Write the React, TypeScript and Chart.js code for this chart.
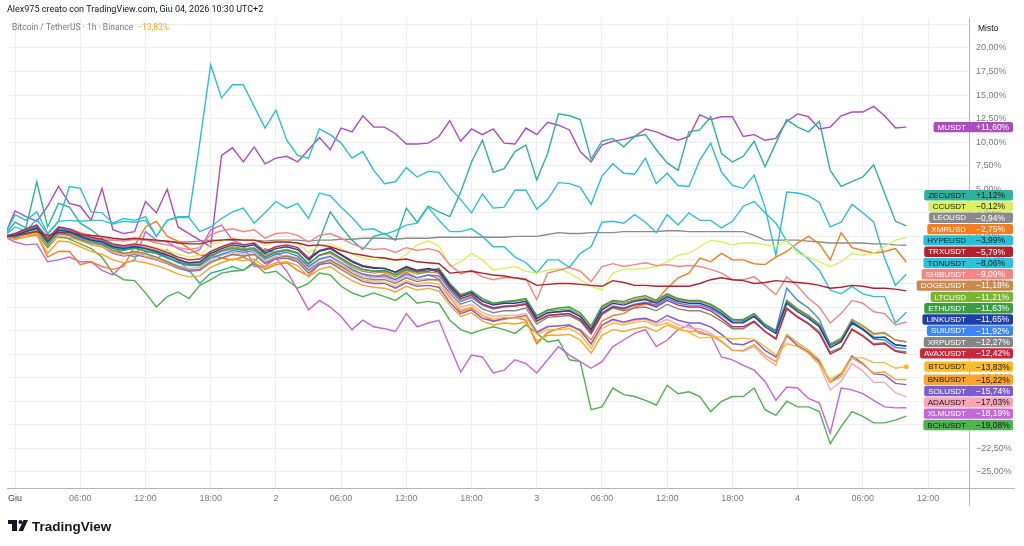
import React, { useEffect, useRef } from 'react';
import { Chart, registerables } from 'chart.js';

Chart.register(...registerables);

// Hourly bars, first one at 23:00 on 31 May (hour -1 relative to 1 June 00:00)
const HOUR_START = -1;

const tickHours = [0, 6, 12, 18, 24, 30, 36, 42, 48, 54, 60, 66, 72, 78, 84];
const tickLabels = ['Giu', '06:00', '12:00', '18:00', '2', '06:00', '12:00', '18:00', '3', '06:00', '12:00', '18:00', '4', '06:00', '12:00'];
const yTicks = [-25, -22.5, -20, -17.5, -15, -12.5, -10, -7.5, -5, -2.5, 0, 2.5, 5, 7.5, 10, 12.5, 15, 17.5, 20, 22.5];

// Percent change versus the first bar, one value per hour
const musdt = [0, 2.7, 2.1, 1.6, 3.2, 5.3, 3.5, 3.2, 1.7, 5.1,
  0.7, 0.3, 0.5, 3.7, 2.5, 5.0, 1.0, 0.3, -0.4, -1.1,
  8.6, 9.4, 7.9, 9.5, 7.7, 8.3, 8.5, 7.9, 9.2, 10.5,
  9.2, 11.5, 11.1, 12.8, 11.6, 11.6, 10.9, 9.8, 9.8, 9.9,
  10.6, 12.3, 10.1, 11.4, 10.8, 11.4, 9.9, 9.8, 11.5, 10.8,
  12.1, 11.8, 11.3, 9.0, 7.9, 9.7, 10.1, 10.3, 10.6, 11.4,
  11.1, 10.6, 10.2, 10.6, 12.9, 12.4, 12.7, 12.7, 10.6, 10.8,
  10.2, 10.4, 12.2, 13.0, 12.7, 11.4, 11.6, 12.8, 13.2, 13.2,
  13.8, 12.8, 11.5, 11.6];
const zecusdt = [0, 1.5, 0.9, 5.8, 1.0, 3.5, 3.1, 1.4, 0.7, -0.2,
  -1.2, -1.8, -2.2, -1.8, -2.5, -1.4, -2.5, -3.6, -5.0, -3.9,
  -3.6, -3.2, -3.6, -2.7, -1.3, -1.8, -2.2, -2.5, -2.9, -0.4,
  2.6, 1.0, -0.4, -1.4, 0.0, 0.3, -0.4, 3.0, 1.5, 3.2,
  2.6, 2.1, 4.7, 7.9, 10.2, 6.8, 7.2, 9.0, 9.7, 6.0,
  8.8, 13.0, 12.8, 12.4, 8.2, 10.1, 10.4, 9.5, 10.6, 10.8,
  9.2, 7.8, 7.0, 11.1, 11.3, 12.7, 8.8, 7.9, 8.5, 10.1,
  7.4, 9.9, 12.4, 11.6, 11.1, 12.2, 7.0, 5.3, 5.8, 6.3,
  7.6, 4.6, 1.6, 1.12];
const ccusdt = [0, 0.1, 0.4, 0.6, -0.5, 0.5, 0.3, 0.0, -0.3, -0.4,
  -0.8, -1.0, -0.8, -1.0, -1.2, -1.5, -1.9, -2.2, -2.0, -0.9,
  -0.5, -0.2, -0.4, -0.3, -1.0, -0.6, -0.5, -0.8, -1.7, -1.0,
  -0.8, -1.3, -1.9, -2.3, -2.5, -2.3, -2.6, -1.9, -0.9, -0.5,
  -1.0, -3.2, -2.7, -1.8, -2.5, -3.6, -3.4, -3.2, -3.7, -3.9,
  -3.6, -3.4, -3.9, -4.6, -5.3, -5.7, -3.9, -3.5, -3.5, -3.4,
  -3.2, -2.7, -2.0, -1.8, -1.1, -0.4, -0.6, -0.9, -0.7, -0.7,
  -0.9, -1.1, -0.4, -1.8, -2.2, -2.7, -3.2, -2.7, -1.8, -2.0,
  -1.8, -1.1, -0.4, -0.12];
const leousd = [0, -0.1, 0.1, 0.1, -0.2, -0.1, -0.2, -0.3, -0.3, -0.4,
  -0.4, -0.4, -0.3, -0.4, -0.5, -0.5, -0.6, -0.6, -0.5, -0.4,
  -0.4, -0.4, -0.4, -0.4, -0.5, -0.4, -0.4, -0.4, -0.5, -0.4,
  -0.4, -0.3, -0.3, -0.2, -0.2, -0.2, -0.3, -0.2, -0.2, -0.2,
  -0.1, -0.1, -0.1, -0.1, -0.1, -0.1, -0.1, 0.0, 0.0, 0.0,
  0.2, 0.4, 0.3, 0.3, 0.4, 0.4, 0.4, 0.5, 0.5, 0.5,
  0.5, 0.6, 0.6, 0.5, 0.5, 0.5, 0.5, 0.5, 0.5, 0.1,
  -0.4, -0.4, -0.4, -0.4, -0.5, -0.6, -0.7, -0.7, -0.7, -0.7,
  -0.8, -0.8, -0.9, -0.94];
const xmrusd = [0, -0.3, 0.3, 0.2, -2.2, -1.6, -1.6, -3.0, -2.7, -3.2,
  -3.5, -3.2, -1.0, 1.0, 1.6, 0.0, -0.5, -1.3, -2.0, -2.0,
  -2.3, -2.5, -2.2, -2.8, -3.5, -3.0, -2.8, -3.6, -4.2, -3.0,
  -2.5, -3.2, -3.6, -4.0, -4.4, -4.0, -4.6, -3.8, -4.4, -4.1,
  -4.5, -6.5, -8.0, -7.6, -8.4, -9.0, -8.8, -8.6, -8.9, -11.4,
  -10.2, -9.8, -9.5, -9.9, -11.0, -9.0, -8.4, -8.2, -7.5, -7.2,
  -6.8, -5.5, -4.4, -3.9, -2.3, -2.7, -1.8, -2.5, -2.5, -2.9,
  -3.0, -2.2, -1.6, -0.7, 0.0, -0.8, -2.5, 0.4, -1.2, -1.5,
  -1.8, -1.6, -1.3, -2.75];
const hypeusd = [0, 2.3, 1.7, 2.6, 0.3, 1.6, 5.3, 5.1, 2.6, 2.5,
  1.4, 1.9, 1.7, 2.1, 0.0, 1.7, 2.1, 2.1, 10.0, 18.2,
  14.7, 16.1, 16.1, 13.8, 11.5, 13.4, 10.2, 8.6, 8.3, 11.4,
  10.8, 9.9, 8.3, 9.0, 7.0, 5.6, 5.8, 7.3, 6.3, 6.9,
  6.8, 5.2, 3.9, 2.5, 4.5, 3.0, 3.1, 4.9, 4.9, 2.9,
  3.9, 5.7, 5.6, 5.2, 3.4, 6.4, 7.7, 6.7, 6.6, 8.3,
  5.6, 6.7, 5.4, 5.3, 8.1, 9.9, 6.8, 5.4, 5.1, 6.5,
  3.1, -2.0, 4.7, 4.6, 4.3, 3.6, 1.0, 1.5, 3.4, 2.5,
  1.5, -2.3, -5.2, -3.99];
const trxusdt = [0, 0.1, 0.3, 0.5, 0.1, 0.4, 0.4, 0.2, 0.1, 0.0,
  -0.2, -0.3, -0.2, -0.3, -0.4, -0.5, -0.7, -0.8, -0.8, -0.5,
  -0.4, -0.3, -0.4, -0.4, -0.7, -0.6, -0.6, -0.7, -1.0, -0.9,
  -1.1, -1.5, -1.8, -2.0, -2.2, -2.3, -2.5, -2.4, -2.7, -2.8,
  -2.9, -3.9, -3.8, -3.7, -3.9, -4.1, -4.2, -4.4, -4.6, -5.2,
  -5.1, -5.0, -5.0, -5.1, -5.2, -5.3, -4.7, -4.9, -5.2, -5.2,
  -5.3, -5.3, -5.3, -5.3, -5.0, -4.6, -4.4, -4.6, -4.7, -5.0,
  -4.9, -4.7, -4.8, -4.9, -5.0, -5.2, -5.5, -5.4, -5.2, -5.3,
  -5.5, -5.5, -5.6, -5.79];
const tonusdt = [0, 1.0, 0.6, 1.8, 0.2, 1.6, 1.7, 1.6, 1.7, 1.7,
  1.3, 1.6, 1.5, 1.7, 0.0, 1.7, 2.0, 2.0, 0.5, 1.0,
  1.9, 2.6, 3.0, 1.4, 2.5, 3.7, 3.0, 3.5, 1.9, 4.6,
  4.3, 3.1, 2.0, 0.7, 0.8, 0.2, 0.6, 1.2, 1.4, 3.1,
  1.7, 0.5, 0.5, 0.8, 0.0, -1.1, -1.1, -2.2, -2.8, -3.9,
  -2.5, -2.5, -3.3, -1.8, -1.1, 1.5, 1.6, 1.4, 2.3, 1.5,
  0.4, 2.3, 1.2, 2.5, 1.7, 1.7, 0.9, 1.6, 3.2, 3.7,
  2.5, 1.4, -0.5, -1.5, -2.4, -3.6, -5.7, -6.1, -5.3, -6.1,
  -6.4, -6.4, -9.2, -8.06];
const shibusdt = [0, 0.2, 0.6, 1.0, -0.2, 0.9, 0.8, 0.4, 0.1, -0.1,
  -0.4, -0.5, -0.3, -0.4, -0.7, -0.9, -1.2, -1.4, -1.2, 0.2,
  0.6, 0.8, 0.5, 0.7, -0.2, 0.3, 0.4, 0.1, -0.6, 0.1,
  0.3, -0.2, -0.8, -1.2, -1.4, -1.3, -1.7, -1.2, -1.5, -1.3,
  -1.6, -3.0, -4.0, -3.6, -4.3, -4.6, -4.4, -4.4, -4.5, -6.7,
  -3.9, -3.6, -3.3, -3.7, -4.8, -3.2, -2.9, -3.2, -3.0, -2.8,
  -3.1, -3.0, -3.2, -3.1, -3.2, -3.5, -3.9, -4.6, -4.6, -4.3,
  -5.2, -6.2, -4.3, -5.3, -6.6, -7.5, -9.2, -8.2, -6.8, -7.1,
  -8.0, -8.2, -9.4, -9.09];
const dogeusdt = [0, 0.3, 0.8, 1.2, -0.5, 1.0, 0.7, 0.2, -0.2, -0.4,
  -0.9, -1.1, -0.9, -1.2, -1.5, -1.9, -2.4, -2.9, -2.8, -1.8,
  -1.5, -1.2, -1.4, -1.2, -2.2, -1.6, -1.4, -1.8, -3.0, -2.0,
  -1.8, -2.5, -3.3, -3.7, -3.9, -3.8, -4.3, -3.6, -4.0, -3.8,
  -3.9, -5.5, -6.7, -6.3, -7.2, -7.6, -7.4, -7.3, -7.1, -8.8,
  -8.1, -8.0, -7.9, -8.5, -9.8, -7.6, -6.9, -7.1, -6.7, -6.5,
  -6.9, -6.2, -6.7, -6.9, -6.9, -7.3, -7.9, -8.9, -8.9, -8.3,
  -9.4, -10.0, -6.8, -7.7, -8.4, -9.3, -11.4, -10.9, -8.8, -9.5,
  -10.3, -10.2, -11.0, -11.18];
const ltcusd = [0, 0.1, 0.5, 0.7, -0.7, 0.5, 0.3, -0.1, -0.5, -0.8,
  -1.2, -1.4, -1.3, -1.5, -1.8, -2.2, -2.7, -3.0, -2.9, -2.0,
  -1.5, -1.1, -1.3, -1.2, -2.0, -1.6, -1.4, -1.7, -2.9, -2.0,
  -1.7, -2.4, -3.1, -3.5, -3.7, -3.7, -4.0, -3.4, -3.7, -3.5,
  -3.6, -5.1, -6.3, -5.9, -6.8, -7.2, -7.0, -6.9, -6.7, -8.5,
  -7.9, -7.8, -7.7, -8.3, -9.7, -7.6, -6.9, -7.1, -6.8, -6.6,
  -7.0, -6.3, -6.8, -6.9, -6.9, -7.3, -8.0, -8.9, -8.8, -8.2,
  -9.3, -10.0, -6.8, -7.7, -8.4, -9.3, -11.4, -10.8, -8.9, -9.5,
  -10.4, -10.3, -11.0, -11.21];
const ethusdt = [0, 0.0, 0.6, 0.8, -0.4, 0.6, 0.5, -0.1, -0.5, -0.8,
  -1.3, -1.5, -1.2, -1.6, -1.8, -2.3, -2.7, -3.0, -3.0, -2.1,
  -1.6, -1.3, -1.5, -1.3, -2.2, -1.7, -1.5, -1.8, -2.9, -2.0,
  -1.6, -2.3, -3.0, -3.5, -3.7, -3.6, -4.1, -3.5, -3.8, -3.7,
  -3.4, -5.0, -6.2, -5.8, -6.6, -7.1, -6.9, -6.8, -6.6, -8.4,
  -7.8, -7.6, -7.5, -8.1, -9.5, -7.4, -6.8, -6.9, -6.5, -6.3,
  -6.8, -6.1, -6.6, -6.8, -6.8, -7.2, -7.9, -8.8, -8.9, -8.2,
  -9.4, -10.1, -6.9, -7.8, -8.5, -9.4, -11.6, -11.0, -9.1, -9.8,
  -10.7, -10.7, -11.5, -11.63];
const linkusdt = [0, 0.1, 0.5, 0.9, -0.6, 0.7, 0.5, 0.0, -0.4, -0.6,
  -1.1, -1.3, -1.1, -1.3, -1.6, -2.0, -2.5, -2.8, -2.7, -1.8,
  -1.3, -0.9, -1.1, -0.9, -1.8, -1.3, -1.1, -1.4, -2.5, -1.6,
  -1.3, -2.0, -2.7, -3.2, -3.4, -3.4, -3.8, -3.2, -3.6, -3.4,
  -3.6, -5.2, -6.4, -6.0, -6.9, -7.3, -7.1, -7.1, -6.9, -8.7,
  -8.1, -8.0, -7.9, -8.5, -9.9, -7.8, -7.1, -7.3, -6.9, -6.7,
  -7.1, -6.4, -6.9, -7.1, -7.1, -7.5, -8.2, -9.1, -9.1, -8.5,
  -9.6, -10.3, -7.1, -8.0, -8.7, -9.6, -11.8, -11.2, -9.2, -9.9,
  -10.8, -10.7, -11.5, -11.65];
const suiusdt = [0, 0.2, 0.7, 1.1, -0.4, 0.9, 0.6, 0.1, -0.3, -0.5,
  -1.0, -1.2, -1.0, -1.3, -1.7, -2.2, -2.8, -3.1, -3.1, -2.3,
  -1.9, -1.5, -1.7, -1.5, -2.4, -1.9, -1.7, -2.1, -3.2, -2.4,
  -2.1, -2.8, -3.5, -4.0, -4.2, -4.2, -4.6, -4.0, -4.4, -4.1,
  -4.2, -5.7, -6.9, -6.5, -7.3, -7.7, -7.5, -7.4, -7.2, -9.0,
  -8.4, -8.3, -8.2, -8.8, -10.2, -8.1, -7.4, -7.6, -7.2, -7.0,
  -7.3, -6.6, -7.1, -7.3, -7.3, -7.7, -8.4, -9.2, -9.2, -8.5,
  -9.4, -10.0, -5.5, -6.8, -7.6, -8.8, -11.5, -11.1, -9.0, -9.8,
  -10.9, -11.0, -11.8, -11.92];
const xrpusdt = [0, -0.1, 0.3, 0.6, -0.9, 0.4, 0.2, -0.3, -0.7, -0.9,
  -1.5, -1.8, -1.6, -1.8, -2.2, -2.7, -3.2, -3.6, -3.5, -2.7,
  -2.3, -1.9, -2.1, -1.9, -2.8, -2.3, -2.1, -2.4, -3.6, -2.8,
  -2.5, -3.2, -3.9, -4.4, -4.6, -4.6, -5.0, -4.4, -4.8, -4.6,
  -4.6, -6.0, -7.2, -6.8, -7.7, -8.1, -7.9, -7.9, -7.6, -9.3,
  -8.6, -8.5, -8.4, -9.0, -10.4, -8.3, -7.6, -7.9, -7.6, -7.5,
  -7.9, -7.2, -7.7, -7.9, -7.9, -8.3, -9.0, -9.8, -9.8, -9.1,
  -10.1, -10.8, -7.6, -8.5, -9.2, -10.1, -12.3, -11.8, -9.8, -10.5,
  -11.4, -11.3, -12.1, -12.27];
const avaxusdt = [0, 0.3, 0.8, 1.2, -0.2, 1.0, 0.8, 0.3, -0.1, -0.3,
  -0.8, -1.0, -0.8, -1.0, -1.3, -1.7, -2.2, -2.5, -2.4, -1.6,
  -1.1, -0.7, -0.9, -0.7, -1.6, -1.1, -0.9, -1.2, -2.3, -1.5,
  -1.2, -1.9, -2.6, -3.1, -3.3, -3.4, -3.8, -3.3, -3.7, -3.5,
  -3.8, -5.4, -6.6, -6.2, -7.2, -7.6, -7.4, -7.4, -7.2, -9.0,
  -8.4, -8.3, -8.2, -8.8, -10.2, -8.2, -7.5, -7.7, -7.3, -7.1,
  -7.5, -6.8, -7.3, -7.5, -7.5, -7.9, -8.7, -9.6, -9.6, -9.0,
  -10.1, -10.9, -7.7, -8.6, -9.3, -10.3, -12.5, -11.9, -9.9, -10.6,
  -11.5, -11.4, -12.2, -12.42];
const btcusdt = [0, -0.1, 0.1, 0.4, -1.0, 0.1, -0.1, -0.5, -0.9, -1.1,
  -1.7, -2.0, -1.8, -2.1, -2.4, -2.8, -3.3, -3.6, -3.5, -2.8,
  -2.3, -1.9, -2.1, -1.9, -2.8, -2.3, -2.2, -2.5, -3.6, -2.8,
  -2.6, -3.4, -4.1, -4.6, -4.8, -4.9, -5.3, -4.7, -5.1, -4.9,
  -5.1, -6.6, -7.8, -7.5, -8.4, -8.8, -8.6, -8.7, -8.5, -10.4,
  -9.9, -9.9, -9.8, -10.4, -11.9, -9.8, -9.2, -9.4, -9.1, -9.0,
  -9.5, -9.2, -9.7, -10.2, -10.8, -10.7, -10.7, -10.9, -10.8, -10.9,
  -11.7, -12.6, -11.4, -11.7, -12.4, -13.6, -15.2, -14.5, -12.9, -12.9,
  -13.4, -13.4, -14.0, -13.83];
const bnbusdt = [0, -0.3, -0.1, 0.2, -1.8, -0.5, -0.6, -1.1, -1.6, -1.9,
  -2.5, -2.8, -2.6, -2.8, -3.1, -3.5, -4.0, -4.3, -4.2, -3.3,
  -2.8, -2.4, -2.6, -2.4, -3.3, -2.8, -2.7, -3.1, -4.3, -3.5,
  -3.2, -4.0, -4.7, -5.2, -5.4, -5.5, -5.9, -5.3, -5.7, -5.5,
  -5.8, -7.3, -8.5, -8.1, -9.0, -9.4, -9.2, -9.3, -9.1, -11.1,
  -10.5, -10.5, -10.4, -11.0, -12.4, -10.5, -9.9, -10.1, -9.8, -9.6,
  -10.1, -9.4, -9.9, -10.1, -10.1, -10.5, -11.2, -12.1, -12.1, -11.5,
  -12.6, -13.3, -10.4, -11.3, -12.1, -13.1, -15.5, -14.9, -12.9, -13.6,
  -14.5, -14.4, -15.2, -15.22];
const solusdt = [0, -0.2, 0.2, 0.5, -1.1, 0.3, 0.1, -0.4, -0.9, -1.1,
  -1.8, -2.1, -1.9, -2.2, -2.5, -2.9, -3.4, -3.7, -3.6, -2.8,
  -2.3, -1.9, -2.1, -1.9, -2.9, -2.4, -2.3, -2.7, -3.9, -3.0,
  -2.8, -3.5, -4.2, -4.8, -5.0, -5.0, -5.5, -4.9, -5.3, -5.2,
  -5.4, -7.0, -8.2, -7.8, -8.7, -9.0, -8.7, -8.6, -8.4, -10.2,
  -9.6, -9.5, -9.4, -10.0, -11.4, -9.4, -8.8, -9.1, -8.8, -8.7,
  -9.1, -8.4, -8.9, -9.2, -9.2, -9.6, -10.4, -11.4, -11.5, -11.0,
  -12.1, -12.8, -10.5, -11.6, -12.3, -13.3, -15.5, -14.6, -12.7, -13.5,
  -14.6, -14.7, -15.6, -15.74];
const adausdt = [0, -0.1, 0.3, 0.6, -1.0, 0.4, 0.2, -0.3, -0.7, -0.9,
  -1.6, -1.9, -1.7, -1.9, -2.2, -2.6, -3.1, -3.4, -3.3, -2.5,
  -2.0, -1.7, -1.9, -1.7, -2.6, -2.1, -2.0, -2.3, -3.4, -2.5,
  -2.2, -3.0, -3.7, -4.2, -4.4, -4.4, -4.8, -4.2, -4.6, -4.5,
  -4.7, -6.3, -7.5, -7.2, -8.1, -8.5, -8.4, -8.4, -8.2, -10.1,
  -9.5, -9.5, -9.4, -10.0, -11.5, -9.5, -8.9, -9.2, -8.9, -8.8,
  -9.3, -8.8, -9.4, -9.7, -9.8, -10.3, -11.1, -12.1, -12.2, -11.7,
  -12.9, -13.7, -10.6, -11.6, -12.4, -13.6, -16.3, -15.4, -13.5, -14.3,
  -15.5, -15.5, -16.6, -17.03];
const xlmusdt = [0, -0.6, -0.9, -0.8, -2.7, -2.5, -2.2, -2.7, -2.7, -3.6,
  -4.1, -2.9, -2.5, 0.5, -0.4, -0.6, -1.3, -1.8, -1.4, 0.7,
  1.2, -0.4, -0.9, -3.2, -3.2, -2.3, -3.7, -5.7, -7.8, -6.8,
  -7.5, -8.5, -9.9, -8.9, -9.6, -9.8, -10.1, -8.2, -9.6, -9.2,
  -8.9, -11.7, -14.4, -12.6, -12.8, -14.5, -14.2, -13.1, -13.5, -14.5,
  -13.1, -11.7, -12.6, -13.3, -14.0, -13.3, -11.7, -11.0, -10.3, -9.9,
  -11.7, -11.0, -9.9, -9.4, -10.3, -10.5, -12.8, -13.1, -13.7, -14.2,
  -15.4, -17.4, -16.0, -16.1, -17.2, -17.7, -20.9, -16.1, -16.3, -16.7,
  -17.4, -18.1, -18.2, -18.19];
const bchusdt = [0, -0.3, 0.2, 0.3, -1.2, 0.1, -0.3, -0.8, -1.3, -2.2,
  -3.9, -4.6, -4.7, -6.0, -7.5, -6.4, -5.9, -6.6, -5.2, -4.6,
  -3.9, -3.7, -3.6, -2.9, -3.9, -3.7, -4.6, -5.5, -5.0, -3.9,
  -4.1, -5.3, -6.0, -6.4, -6.0, -6.4, -6.8, -6.0, -7.1, -6.9,
  -7.1, -8.9, -9.9, -10.3, -9.9, -9.6, -9.9, -10.3, -9.4, -10.3,
  -11.2, -11.0, -13.1, -13.3, -18.4, -18.1, -16.1, -16.8, -17.0, -17.4,
  -17.9, -15.8, -16.7, -16.5, -17.0, -18.6, -17.5, -17.0, -17.0, -16.1,
  -18.4, -19.0, -17.5, -18.1, -18.1, -18.6, -22.0, -20.2, -18.6, -19.1,
  -19.8, -19.8, -19.5, -19.08];

const DARK = '#131722';
const LIGHT = '#ffffff';

// Drawing order: first entry is painted on top
const series = [
  { name: 'LINKUSDT', data: linkusdt, color: '#1f3fa6', text: LIGHT },
  { name: 'AVAXUSDT', data: avaxusdt, color: '#c8283a', text: LIGHT },
  { name: 'TRXUSDT', data: trxusdt, color: '#b3212b', text: LIGHT },
  { name: 'ETHUSDT', data: ethusdt, color: '#3c9c44', text: LIGHT },
  { name: 'SUIUSDT', data: suiusdt, color: '#3e86f5', text: LIGHT },
  { name: 'DOGEUSDT', data: dogeusdt, color: '#c88a4e', text: LIGHT },
  { name: 'LTCUSD', data: ltcusd, color: '#79b531', text: LIGHT },
  { name: 'XRPUSDT', data: xrpusdt, color: '#858585', text: LIGHT },
  { name: 'BTCUSDT', data: btcusdt, color: '#f9bb2e', text: DARK },
  { name: 'BNBUSDT', data: bnbusdt, color: '#fca32a', text: DARK },
  { name: 'SOLUSDT', data: solusdt, color: '#7f5bd0', text: LIGHT },
  { name: 'ADAUSDT', data: adausdt, color: '#f7a6b5', text: DARK },
  { name: 'SHIBUSDT', data: shibusdt, color: '#f48585', text: LIGHT },
  { name: 'CCUSDT', data: ccusdt, color: '#dcef5e', text: DARK },
  { name: 'XMRUSD', data: xmrusd, color: '#f57c1f', text: LIGHT },
  { name: 'LEOUSD', data: leousd, color: '#8a8a8a', text: LIGHT },
  { name: 'XLMUSDT', data: xlmusdt, color: '#c467d8', text: LIGHT },
  { name: 'BCHUSDT', data: bchusdt, color: '#4fb34f', text: DARK },
  { name: 'TONUSDT', data: tonusdt, color: '#2bc3d9', text: DARK },
  { name: 'HYPEUSD', data: hypeusd, color: '#29c0d5', text: DARK },
  { name: 'ZECUSDT', data: zecusdt, color: '#2fb29b', text: DARK },
  { name: 'MUSDT', data: musdt, color: '#ad4cc0', text: LIGHT },
];

const MAIN_SYMBOL = 'BTCUSDT';
const FONT = '"Liberation Sans", Arial, sans-serif';
const HEAD_FONT = 'Roboto, "Liberation Sans", sans-serif';
const Y_MIN = -26.71;
const Y_MAX = 23.18;
const X_MIN = -0.74;
const X_MAX = 87.86;
const TAG_STEP = 11.3;
const TAG_H = 10.4;

const fmtPct = (v: number) =>
  (v > 0 ? '+' : v < 0 ? '\u2212' : '') + Math.abs(v).toFixed(2).replace('.', ',') + '%';

const roundRect = (ctx: CanvasRenderingContext2D, x: number, y: number, w: number, h: number, r: number) => {
  ctx.beginPath();
  ctx.moveTo(x + r, y);
  ctx.lineTo(x + w - r, y);
  ctx.quadraticCurveTo(x + w, y, x + w, y + r);
  ctx.lineTo(x + w, y + h - r);
  ctx.quadraticCurveTo(x + w, y + h, x + w - r, y + h);
  ctx.lineTo(x + r, y + h);
  ctx.quadraticCurveTo(x, y + h, x, y + h - r);
  ctx.lineTo(x, y + r);
  ctx.quadraticCurveTo(x, y, x + r, y);
  ctx.closePath();
};

const overlayPlugin = {
  id: 'tvOverlay',
  afterDraw(chart: any) {
    const ctx: CanvasRenderingContext2D = chart.ctx;
    const area = chart.chartArea;
    const ys = chart.scales.y;
    const xs = chart.scales.x;
    ctx.save();

    // axis lines
    ctx.strokeStyle = '#b2b5be';
    ctx.lineWidth = 1;
    ctx.beginPath();
    ctx.moveTo(area.left, Math.round(area.bottom) + 0.5);
    ctx.lineTo(1015, Math.round(area.bottom) + 0.5);
    ctx.moveTo(Math.round(area.right) - 0.5, area.top);
    ctx.lineTo(Math.round(area.right) - 0.5, 506);
    ctx.stroke();

    // header
    ctx.textBaseline = 'middle';
    ctx.textAlign = 'left';
    ctx.fillStyle = DARK;
    ctx.font = `9px ${HEAD_FONT}`;
    ctx.fillText('Alex975 creato con TradingView.com, Giu 04, 2026 10:30 UTC+2', 7, 10);
    const main = series.find((s) => s.name === MAIN_SYMBOL)!;
    const mainLast = main.data[main.data.length - 1];
    ctx.fillStyle = '#787b86';
    ctx.font = `8.5px ${HEAD_FONT}`;
    const sub = 'Bitcoin / TetherUS \u00b7 1h \u00b7 Binance';
    ctx.fillText(sub, 12, 28);
    const subW = ctx.measureText(sub).width;
    ctx.fillStyle = '#f7a625';
    ctx.fillText(fmtPct(mainLast), 12 + subW + 4, 28);

    ctx.fillStyle = DARK;
    ctx.font = `8.5px ${FONT}`;
    ctx.fillText('Misto', 978, 29);

    // last value dot of the main symbol
    const lastX = xs.getPixelForValue(HOUR_START + main.data.length - 1);
    ctx.fillStyle = main.color;
    ctx.beginPath();
    ctx.arc(lastX, ys.getPixelForValue(mainLast), 2.5, 0, Math.PI * 2);
    ctx.fill();

    // price tags, stacked around the main symbol
    const items = series.map((s) => {
      const last = s.data[s.data.length - 1];
      return { s, last, target: ys.getPixelForValue(last), pos: 0 };
    });
    items.sort((a, b) => a.target - b.target);
    const ai = items.findIndex((it) => it.s.name === MAIN_SYMBOL);
    items[ai].pos = items[ai].target;
    for (let i = ai - 1; i >= 0; i--) items[i].pos = Math.min(items[i].target, items[i + 1].pos - TAG_STEP);
    for (let i = ai + 1; i < items.length; i++) items[i].pos = Math.max(items[i].target, items[i - 1].pos + TAG_STEP);

    const axisX = Math.round(area.right);
    items.forEach((it) => {
      ctx.font = `8px ${FONT}`;
      const nameW = ctx.measureText(it.s.name).width;
      const left = axisX - 1 - nameW - 7;
      const top = it.pos - TAG_H / 2;
      ctx.fillStyle = it.s.color;
      roundRect(ctx, left, top, 1013 - left, TAG_H, 2);
      ctx.fill();
      ctx.fillStyle = it.s.text;
      ctx.textAlign = 'right';
      ctx.fillText(it.s.name, axisX - 4, it.pos + 0.5);
      ctx.textAlign = 'left';
      ctx.font = `8.5px ${FONT}`;
      ctx.fillText(fmtPct(it.last), 976, it.pos + 0.5);
    });

    // logo
    ctx.fillStyle = DARK;
    ctx.fillRect(8, 520, 9, 4);
    ctx.fillRect(12, 520, 5, 11);
    ctx.beginPath();
    ctx.arc(20.5, 522, 2, 0, Math.PI * 2);
    ctx.fill();
    ctx.beginPath();
    ctx.moveTo(23.5, 520);
    ctx.lineTo(28, 520);
    ctx.lineTo(23, 531);
    ctx.lineTo(18.5, 531);
    ctx.closePath();
    ctx.fill();
    ctx.font = `bold 13.5px ${FONT}`;
    ctx.textAlign = 'left';
    ctx.textBaseline = 'alphabetic';
    ctx.fillText('TradingView', 32, 530.5);

    ctx.restore();
  },
};

export default function App() {
  const canvasRef = useRef<HTMLCanvasElement | null>(null);

  useEffect(() => {
    const canvas = canvasRef.current;
    if (!canvas) return;
    const chart = new Chart(canvas, {
      type: 'line',
      data: {
        datasets: series.map((s) => ({
          label: s.name,
          data: s.data.map((v, i) => ({ x: HOUR_START + i, y: v })),
          borderColor: s.color,
          backgroundColor: s.color,
          borderWidth: 1.4,
          pointRadius: 0,
          tension: 0,
          fill: false,
        })),
      },
      options: {
        animation: false,
        responsive: false,
        devicePixelRatio: 1,
        events: [],
        layout: { padding: { left: 7, right: 0, top: 18, bottom: 38 } },
        plugins: { legend: { display: false }, tooltip: { enabled: false } },
        scales: {
          x: {
            type: 'linear',
            min: X_MIN,
            max: X_MAX,
            afterBuildTicks: (s: any) => {
              s.ticks = tickHours.map((v) => ({ value: v }));
            },
            afterFit: (s: any) => {
              s.height = 20;
            },
            ticks: {
              autoSkip: false,
              maxRotation: 0,
              padding: 5,
              callback: (_v: any, i: number) => tickLabels[i],
              color: (c: any) => (c.index === 0 ? '#434651' : '#787b86'),
              font: { family: FONT, size: 9 },
            },
            grid: { color: '#eceef2', drawTicks: false, lineWidth: 1 },
            border: { display: false },
          },
          y: {
            type: 'linear',
            position: 'right',
            min: Y_MIN,
            max: Y_MAX,
            afterBuildTicks: (s: any) => {
              s.ticks = yTicks.map((v) => ({ value: v }));
            },
            afterFit: (s: any) => {
              s.width = 54;
            },
            ticks: {
              padding: 6,
              callback: (v: any) => (v === 22.5 ? '' : fmtPct(Number(v)).replace('+', '')),
              color: '#787b86',
              font: { family: FONT, size: 9 },
            },
            grid: { color: '#eceef2', drawTicks: false, lineWidth: 1 },
            border: { display: false },
          },
        },
      },
      plugins: [overlayPlugin],
    });
    return () => chart.destroy();
  }, []);

  return (
    <div style={{ position: 'fixed', left: 0, top: 0, width: 1024, height: 546, background: '#ffffff' }}>
      <canvas ref={canvasRef} width={1024} height={546} style={{ display: 'block', width: 1024, height: 546 }} />
    </div>
  );
}
